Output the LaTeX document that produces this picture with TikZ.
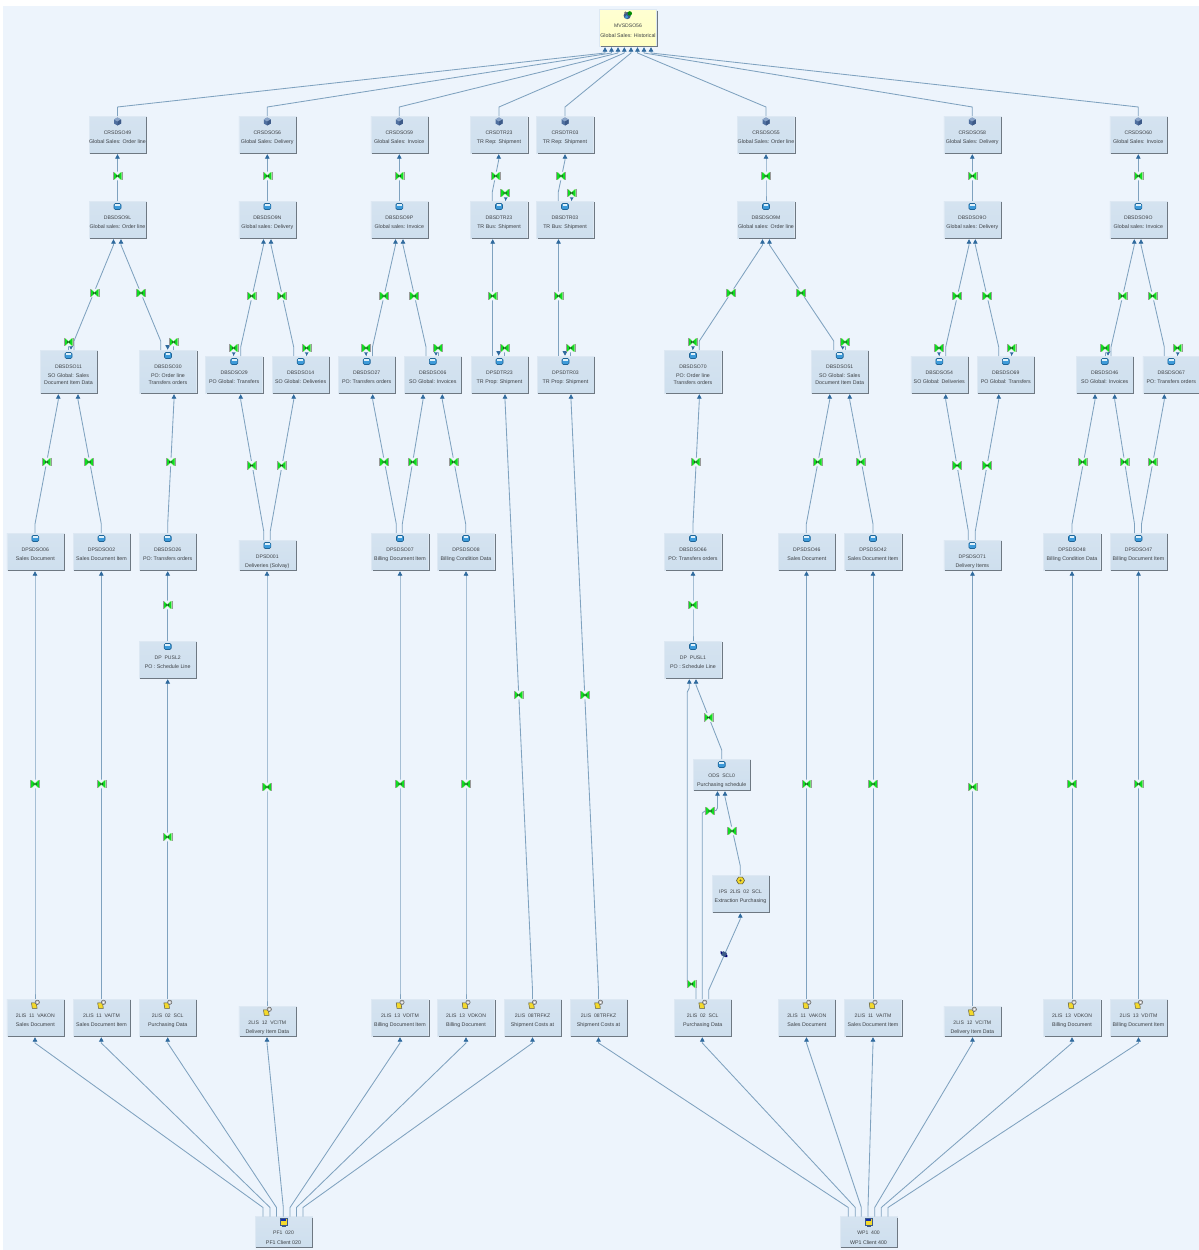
\documentclass[tikz,border=0pt]{standalone}
\usepackage{fontspec}
\setmainfont{Liberation Sans}
\usetikzlibrary{arrows.meta,calc}
\definecolor{bgc}{HTML}{EDF4FC}
\definecolor{boxa}{HTML}{D5E3F0}
\definecolor{boxb}{HTML}{CEDFEE}
\definecolor{boxe}{HTML}{DDE8F3}
\definecolor{shad}{HTML}{6E7882}
\definecolor{yela}{HTML}{FFFFD2}
\definecolor{yelb}{HTML}{FFFFC4}
\definecolor{linec}{HTML}{7FA2BF}
\definecolor{tipc}{HTML}{2F6A9E}
\definecolor{txtc}{HTML}{3C4044}
\definecolor{grn}{HTML}{10DC20}
\definecolor{grnl}{HTML}{A8E8A0}
\definecolor{cubea}{HTML}{8AA4C8}
\definecolor{cubeb}{HTML}{4F6F9F}
\definecolor{cubec}{HTML}{3D5A88}
\definecolor{cyla}{HTML}{3E9BDA}
\definecolor{cylb}{HTML}{1F6496}
\definecolor{cylc}{HTML}{DDF0FA}
\definecolor{doca}{HTML}{F4D92C}
\definecolor{docb}{HTML}{5A5A40}
\tikzset{
  x=1pt,y=-1pt,
  boxnode/.style={rectangle,draw=boxe,line width=.5pt,top color=boxa,bottom color=boxb,minimum width=57pt,inner sep=0pt,outer sep=0pt},
  yelnode/.style={rectangle,draw=boxe,line width=.5pt,top color=yela,bottom color=yelb,minimum width=57pt,inner sep=0pt,outer sep=0pt},
  labnode/.style={anchor=north,inner sep=0pt,outer sep=0pt,align=center,text=txtc,font=\fontsize{5.3}{9.5}\selectfont},
  shadow line/.style={draw=shad,line width=1pt},
  conn/.style={draw=linec,line width=.85pt,line join=round,-{Triangle[length=4.5pt,width=4.6pt,color=tipc,fill=tipc]}},
  plainconn/.style={draw=linec,line width=.85pt},
}
% box: style, name, cx, top, bottom, icon macro, title, sub
\newcommand\bx[8][boxnode]{%
  \pgfmathsetmacro\hh{#5-#4}\pgfmathsetmacro\mm{(#4+#5)/2}%
  \node[#1,minimum height=\hh pt] (#2) at (#3,\mm) {};
  \draw[shadow line] ($(#2.north east)+(.6,1)$) -- ($(#2.south east)+(.6,.6)$) -- ($(#2.south west)+(1,.6)$);
  \begin{scope}[shift={(#3,#4+5.5)}]#6\end{scope}
  \node[labnode] (#2t) at (#3,#4+14.8) {{\fontsize{5.1}{9.5}\selectfont #7}\\#8};
}
\newcommand\cn[4]{\draw[conn] (#2,0 |- #1.north) -- ++(0,-9) -- ($(#4,0 |- #3.south)+(0,7)$) -- ($(#4,0 |- #3.south)+(0,1.2)$);}
% transfer icon
\newcommand\tr[2]{\begin{scope}[shift={(#1,#2)}]
  \fill[grnl] (-4.4,-4.2) rectangle (4.4,4.2);
  \fill[bgc] (-3.2,-4.4) -- (0,-1.2) -- (3.2,-4.4) -- cycle (-3.2,4.4) -- (0,1.2) -- (3.2,4.4) -- cycle;
  \fill[grn] (-3.9,-3.7) -- (0,-.5) -- (3.9,-3.7) -- (3.9,3.7) -- (0,.5) -- (-3.9,3.7) -- cycle;
  \fill[black!80] (-1.5,-1) -- (1.5,1) -- (1.5,-1) -- (-1.5,1) -- cycle;
  \draw[black!40,line width=.4pt] (-4.4,-4.2) -- (-4.4,4.2) (4.4,-4.2) -- (4.4,4.2);
\end{scope}}
\newcommand\trd[2]{\begin{scope}[shift={(#1,#2)}]
  \fill[blue!45!black] (-3.4,-3) -- (3.4,1) -- (3.4,3) -- (1.5,3) -- (-3.4,-.5) -- cycle;
  \fill[cubec] (-1,-3) -- (3,-1) -- (1,3) -- (-3,1) -- cycle;
\end{scope}}
% stub arrow into a node top
\newcommand\stub[3]{%
  \draw[plainconn] (#3,0 |- #1.north) -- ++(0,-4);
  \draw[conn] ($(#2,0 |- #1.north)+(0,-5)$) -- ($(#2,0 |- #1.north)+(0,-.3)$);
  \path let \p1=(#1.north) in \pgfextra{\pgfmathsetmacro\yy{-\y1/1pt-8}\xdef\stuby{\yy}};
  \tr{#3}{\stuby}}
% icons
\newcommand\icyl{\draw[draw=cylb,line width=.6pt,fill=cyla,rounded corners=1.3pt] (-3.5,-3) rectangle (3.5,3);
  \fill[cylc] (-2.4,-2.2) rectangle (2.4,-.7);}
\newcommand\icube{\fill[cubeb] (0,-4) -- (3.5,-2) -- (3.5,2) -- (0,4) -- (-3.5,2) -- (-3.5,-2) -- cycle;
  \fill[cubea] (0,-4) -- (3.5,-2) -- (0,0) -- (-3.5,-2) -- cycle;
  \fill[cubec] (0,0) -- (3.5,-2) -- (3.5,2) -- (0,4) -- cycle;}
\newcommand\idoc{\draw[docb,line width=.5pt,fill=doca] (-3.8,-1.6) -- (1,-1.6) -- (1.8,3.8) -- (-3,3.8) -- cycle;
  \draw[black!60,line width=.5pt,fill=gray!45] (2,-2.2) circle (2.2);\fill[white] (2,-2.2) circle (.8);}
\newcommand\isrc{\draw[cubec,line width=.6pt,fill=doca] (-3.5,-3.8) rectangle (3.5,3) (-1.4,3) -- (1.4,3) -- (1.4,4.2) -- (-1.4,4.2) -- cycle;
  \fill[cyla!40!blue!70!black] (-2.8,-3.2) rectangle (2.8,-.6);}
\newcommand\iips{\draw[docb,line width=.6pt,fill=doca] (-2,-3.4) -- (2,-3.4) -- (4,0) -- (2,3.4) -- (-2,3.4) -- (-4,0) -- cycle;
  \fill[docb] (0,0) circle (1.1);}
\newcommand\imv{\fill[cubec] (-.8,.6) circle (3.6);\fill[cyla] (-1.4,2) circle (1.8);
  \fill[green!55!black] (1.8,-1.6) circle (2.2);\fill[black!55] (-2.5,-2.4) circle (1.3);}
\begin{document}
\begin{tikzpicture}
\useasboundingbox (0,0) rectangle (1199,1250);
\fill[white] (0,0) rectangle (1199,1250);
\fill[bgc] (3,6) rectangle (1199,1250);
% --- top
\bx[yelnode]{mv}{628}{9.5}{46}{\imv}{MVSDSO56}{Global Sales: Historical}
% --- row 1
\bx{cra}{117.5}{116}{153}{\icube}{CRSDSO49}{Global Sales: Order line}
\bx{crb}{267.3}{116}{153}{\icube}{CRSDSO56}{Global Sales: Delivery}
\bx{crc}{399.3}{116}{153}{\icube}{CRSDSO59}{Global Sales: Invoice}
\bx{crd}{499}{116}{153}{\icube}{CRSDTR23}{TR Rep: Shipment}
\bx{cre}{565}{116}{153}{\icube}{CRSDTR03}{TR Rep: Shipment}
\bx{crf}{766}{116}{153}{\icube}{CRSDSO55}{Global Sales: Order line}
\bx{crg}{972.3}{116}{153}{\icube}{CRSDSO58}{Global Sales: Delivery}
\bx{crh}{1138.3}{116}{153}{\icube}{CRSDSO60}{Global Sales: Invoice}
% --- row 2
\bx{dba}{117.5}{201}{238}{\icyl}{DBSDSO9L}{Global sales: Order line}
\bx{dbb}{267.3}{201}{238}{\icyl}{DBSDSO9N}{Global sales: Delivery}
\bx{dbc}{399.3}{201}{238}{\icyl}{DBSDSO9P}{Global sales: Invoice}
\bx{dbd}{499}{201}{238}{\icyl}{DBSDTR23}{TR Bus: Shipment}
\bx{dbe}{565}{201}{238}{\icyl}{DBSDTR03}{TR Bus: Shipment}
\bx{dbf}{766}{201}{238}{\icyl}{DBSDSO9M}{Global sales: Order line}
\bx{dbg}{972.3}{201}{238}{\icyl}{DBSDSO9O}{Global sales: Delivery}
\bx{dbh}{1138.3}{201}{238}{\icyl}{DBSDSO9O}{Global sales: Invoice}
% --- row 3
\bx{so11}{68.5}{350}{393}{\icyl}{DBSDSO11}{SO Global: Sales\\[-3pt]Document Item Data}
\bx{so30}{168}{350}{393}{\icyl}{DBSDSO30}{PO: Order line\\[-3pt]Transfers orders}
\bx{so29}{234.2}{356}{393}{\icyl}{DBSDSO29}{PO Global: Transfers}
\bx{so14}{300.7}{356}{393}{\icyl}{DBSDSO14}{SO Global: Deliveries}
\bx{so27}{366.7}{356}{393}{\icyl}{DBSDSO27}{PO: Transfers orders}
\bx{so06}{432.8}{356}{393}{\icyl}{DBSDSO06}{SO Global: Invoices}
\bx{tr23}{499.5}{356}{393}{\icyl}{DPSDTR23}{TR Prop: Shipment}
\bx{tr03}{565.5}{356}{393}{\icyl}{DPSDTR03}{TR Prop: Shipment}
\bx{so70}{693}{350}{393}{\icyl}{DBSDSO70}{PO: Order line\\[-3pt]Transfers orders}
\bx{so51}{839.7}{350}{393}{\icyl}{DBSDSO51}{SO Global: Sales\\[-3pt]Document Item Data}
\bx{so54}{939.3}{356}{393}{\icyl}{DBSDSO54}{SO Global: Deliveries}
\bx{so69}{1005.8}{356}{393}{\icyl}{DBSDSO69}{PO Global: Transfers}
\bx{so46}{1104.7}{356}{393}{\icyl}{DBSDSO46}{SO Global: Invoices}
\bx{so67}{1171.3}{356}{393}{\icyl}{DBSDSO67}{PO: Transfers orders}
% --- row 4
\bx{dpa}{35.3}{533}{570}{\icyl}{DPSDSO06}{Sales Document}
\bx{dpb}{101.5}{533}{570}{\icyl}{DPSDSO02}{Sales Document Item}
\bx{dpc}{167.7}{533}{570}{\icyl}{DBSDSO26}{PO: Transfers orders}
\bx{dpd}{267.3}{540}{570}{\icyl}{DPSD001}{Deliveries (Solvay)}
\bx{dpe}{400}{533}{570}{\icyl}{DPSDSO07}{Billing Document Item}
\bx{dpf}{466}{533}{570}{\icyl}{DPSDSO08}{Billing Condition Data}
\bx{dpg}{693}{533}{570}{\icyl}{DBSDSO66}{PO: Transfers orders}
\bx{dph}{806.8}{533}{570}{\icyl}{DPSDSO46}{Sales Document}
\bx{dpi}{873}{533}{570}{\icyl}{DPSDSO42}{Sales Document Item}
\bx{dpj}{972.3}{540}{570}{\icyl}{DPSDSO71}{Delivery Items}
\bx{dpk}{1072}{533}{570}{\icyl}{DPSDSO48}{Billing Condition Data}
\bx{dpl}{1138.5}{533}{570}{\icyl}{DPSDSO47}{Billing Document Item}
% --- middle
\bx{puslb}{167.7}{641}{678}{\icyl}{DP\ \ PUSL2}{PO : Schedule Line}
\bx{pusla}{693}{641}{678}{\icyl}{DP\ \ PUSL1}{PO : Schedule Line}
\bx{ods}{721.7}{759}{790}{\icyl}{ODS\ \ SCL0}{Purchasing schedule}
\bx{ips}{740.5}{875}{912}{\iips}{IPS\ \ 2LIS\ \ 02\ \ SCL}{Extraction Purchasing}
% --- data sources
\bx{dsa}{35.3}{999}{1036}{\idoc}{2LIS\ \ 11\ \ VAKON}{Sales Document}
\bx{dsb}{101.5}{999}{1036}{\idoc}{2LIS\ \ 11\ \ VAITM}{Sales Document Item}
\bx{dsc}{167.7}{999}{1036}{\idoc}{2LIS\ \ 02\ \ SCL}{Purchasing Data}
\bx{dsd}{267.3}{1006}{1036}{\idoc}{2LIS\ \ 12\ \ VCITM}{Delivery Item Data}
\bx{dse}{400}{999}{1036}{\idoc}{2LIS\ \ 13\ \ VDITM}{Billing Document Item}
\bx{dsf}{466}{999}{1036}{\idoc}{2LIS\ \ 13\ \ VDKON}{Billing Document}
\bx{dsg}{532.5}{999}{1036}{\idoc}{2LIS\ \ 08TRFKZ}{Shipment Costs at}
\bx{dsh}{598.5}{999}{1036}{\idoc}{2LIS\ \ 08TRFKZ}{Shipment Costs at}
\bx{dsi}{702.7}{999}{1036}{\idoc}{2LIS\ \ 02\ \ SCL}{Purchasing Data}
\bx{dsj}{806.8}{999}{1036}{\idoc}{2LIS\ \ 11\ \ VAKON}{Sales Document}
\bx{dsk}{873}{999}{1036}{\idoc}{2LIS\ \ 11\ \ VAITM}{Sales Document Item}
\bx{dsl}{972.3}{1006}{1036}{\idoc}{2LIS\ \ 12\ \ VCITM}{Delivery Item Data}
\bx{dsm}{1072}{999}{1036}{\idoc}{2LIS\ \ 13\ \ VDKON}{Billing Document}
\bx{dsn}{1138.5}{999}{1036}{\idoc}{2LIS\ \ 13\ \ VDITM}{Billing Document Item}
% --- source systems
\bx{pf}{283.5}{1216.5}{1247}{\isrc}{PF1\ \ 020}{PF1 Client 020}
\bx{wp}{868.5}{1216.5}{1247}{\isrc}{WP1\ \ 400}{WP1 Client 400}
% --- connectors to the top
\cn{cra}{117.5}{mv}{605}
\cn{crb}{267.3}{mv}{611.5}
\cn{crc}{399.3}{mv}{618}
\cn{crd}{499}{mv}{624.3}
\cn{cre}{565}{mv}{631}
\cn{crf}{766}{mv}{637.5}
\cn{crg}{972.3}{mv}{644}
\cn{crh}{1138.3}{mv}{651}
% row 2 to row 1
\cn{dba}{117.5}{cra}{117.5}
\cn{dbb}{267.3}{crb}{267.3}
\cn{dbc}{399.3}{crc}{399.3}
\cn{dbd}{492.3}{crd}{498.7}
\cn{dbe}{558.3}{cre}{565}
\cn{dbf}{766}{crf}{766}
\cn{dbg}{972.3}{crg}{972.3}
\cn{dbh}{1138.3}{crh}{1138.3}
% row 3 to row 2
\cn{so11}{74}{dba}{113.5}
\cn{so30}{160.7}{dba}{121}
\cn{so29}{240.7}{dbb}{263.5}
\cn{so14}{293.7}{dbb}{271}
\cn{so27}{372.5}{dbc}{395.5}
\cn{so06}{426}{dbc}{403}
\cn{tr23}{492.7}{dbd}{492.7}
\cn{tr03}{558.5}{dbe}{558.5}
\cn{so70}{699.3}{dbf}{762.5}
\cn{so51}{833.7}{dbf}{769.5}
\cn{so54}{945.7}{dbg}{969}
\cn{so69}{998.7}{dbg}{975.3}
\cn{so46}{1111}{dbh}{1134.3}
\cn{so67}{1164.3}{dbh}{1141}
% row 4 to row 3
\cn{dpa}{35}{so11}{58.3}
\cn{dpb}{101.3}{so11}{78}
\cn{dpc}{167.7}{so30}{174}
\cn{dpd}{263.7}{so29}{240.7}
\cn{dpd}{270.3}{so14}{293.7}
\cn{dpe}{396.3}{so27}{372.7}
\cn{dpe}{402.3}{so06}{423}
\cn{dpf}{465.7}{so06}{442.3}
\cn{dsg}{532.5}{tr23}{505}
\cn{dsh}{598.5}{tr03}{571}
\cn{dpg}{693}{so70}{699.3}
\cn{dph}{806.3}{so51}{829.7}
\cn{dpi}{873}{so51}{849.7}
\cn{dpj}{968.3}{so54}{945.7}
\cn{dpj}{975.3}{so69}{998.7}
\cn{dpk}{1072}{so46}{1095}
\cn{dpl}{1134.5}{so46}{1114.7}
\cn{dpl}{1141.5}{so67}{1164.3}
% middle
\cn{puslb}{167.7}{dpc}{167.7}
\cn{pusla}{693}{dpg}{693}
\cn{ods}{721.7}{pusla}{696}
\cn{ips}{740.3}{ods}{725}
\cn{dsi}{708.7}{ips}{740.3}
\draw[conn] (696,0 |- dsi.north) -- (696,987) -- (691,984) -- (687.3,982) -- (687.3,692) -- (689.3,688) -- ($(689.3,0 |- pusla.south)+(0,1.2)$);
\draw[conn] (702.3,0 |- dsi.north) -- (702.3,813) -- (705,811) -- (716,810.5) -- (717.5,808) -- ($(717.5,0 |- ods.south)+(0,1.2)$);
% data sources to the rows above
\cn{dsa}{35}{dpa}{35}
\cn{dsb}{101.3}{dpb}{101.3}
\cn{dsc}{167.7}{puslb}{167.7}
\cn{dsd}{267}{dpd}{267}
\cn{dse}{400}{dpe}{400}
\cn{dsf}{466}{dpf}{466}
\cn{dsj}{806.5}{dph}{806.5}
\cn{dsk}{873}{dpi}{873}
\cn{dsl}{972.5}{dpj}{972.5}
\cn{dsm}{1072}{dpk}{1072}
\cn{dsn}{1138.5}{dpl}{1138.5}
% source systems
\cn{pf}{263}{dsa}{35}
\cn{pf}{270}{dsb}{101.3}
\cn{pf}{276.5}{dsc}{167.7}
\cn{pf}{283.3}{dsd}{267}
\cn{pf}{290}{dse}{400}
\cn{pf}{296.5}{dsf}{466}
\cn{pf}{303}{dsg}{532.5}
\cn{wp}{848.3}{dsh}{598.5}
\cn{wp}{855.3}{dsi}{702.3}
\cn{wp}{861.3}{dsj}{806.5}
\cn{wp}{868}{dsk}{873}
\cn{wp}{874.7}{dsl}{972.5}
\cn{wp}{881.3}{dsm}{1072}
\cn{wp}{888}{dsn}{1138.5}
% stub arrows with transfer marks
\stub{dbd}{505.7}{505}
\stub{dbe}{571.7}{571.5}
\stub{so11}{71}{68.5}
\stub{so30}{167.7}{173.5}
\stub{so29}{233.7}{233.5}
\stub{so14}{306.7}{306.5}
\stub{so27}{366}{366}
\stub{so06}{436}{438}
\stub{tr23}{498.7}{504.7}
\stub{tr03}{565}{570.5}
\stub{so70}{693}{692.7}
\stub{so51}{842.7}{845}
\stub{so54}{939}{939}
\stub{so69}{1011.7}{1011.3}
\stub{so46}{1108}{1105}
\stub{so67}{1177.7}{1177.3}
% transfer marks on connectors
\tr{117.5}{176}\tr{267.3}{176}\tr{399.3}{176}\tr{495.7}{176}\tr{561}{176}\tr{766}{176}\tr{972.3}{176}\tr{1138.3}{176}
\tr{94.5}{293}\tr{141}{293}\tr{251.5}{296}\tr{281.5}{296}\tr{384}{296}\tr{414}{296}\tr{492.5}{296}\tr{558.5}{296}
\tr{731}{293}\tr{801}{293}\tr{957}{296}\tr{987}{296}\tr{1122.5}{296}\tr{1152.5}{296}
\tr{46.5}{462}\tr{89}{462}\tr{170.7}{462}\tr{251.7}{465.5}\tr{281.5}{465.5}\tr{384}{462}\tr{412.7}{462}\tr{453.7}{462}
\tr{695.7}{462}\tr{817.7}{462}\tr{860.7}{462}\tr{957}{465.5}\tr{987}{465.5}\tr{1082.5}{462}\tr{1124.5}{462}\tr{1152.5}{462}
\tr{167.3}{605}\tr{692.7}{605}\tr{518.5}{695}\tr{585}{695}\tr{708.5}{717.5}
\tr{35}{784}\tr{101.3}{784}\tr{167.3}{837}\tr{267}{787}\tr{400}{784}\tr{466}{784}\tr{806.5}{784}\tr{873}{784}\tr{972.5}{787}\tr{1072}{784}\tr{1138.5}{784}
\tr{710}{811}\tr{732}{831}\tr{691.3}{984}
\trd{724}{954}
\end{tikzpicture}
\end{document}
